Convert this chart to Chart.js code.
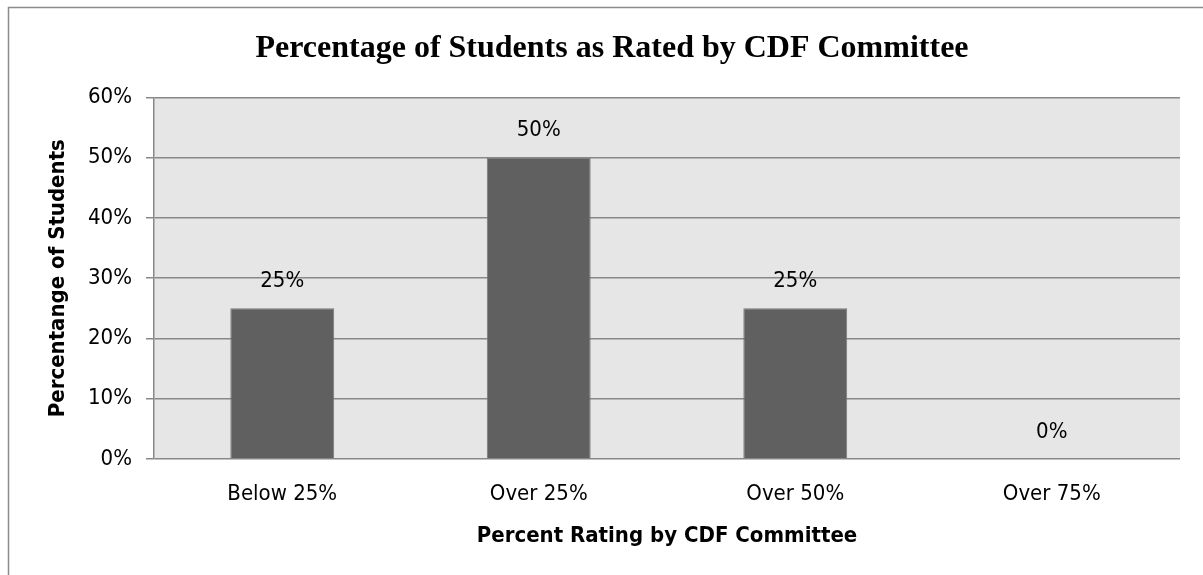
<!DOCTYPE html>
<html>
<head>
<meta charset="utf-8">
<script src="https://cdn.jsdelivr.net/npm/chart.js@4.4.0/dist/chart.umd.min.js"></script>
<style>
html, body { margin: 0; padding: 0; background: #fff; }
</style>
</head>
<body>
<canvas id="chart" width="1203" height="575"></canvas>
<script>
var categories = ["Below 25%", "Over 25%", "Over 50%", "Over 75%"];
var percentStudents = [25, 50, 25, 0];
var yTicks = [0, 10, 20, 30, 40, 50, 60];

var narrow = "'Liberation Sans Narrow', 'DejaVu Sans Condensed', sans-serif";

// grey plot area + outer chart frame
var plotBackground = {
    id: "plotBackground",
    beforeDraw: function (chart) {
        var ctx = chart.ctx, a = chart.chartArea;
        ctx.save();
        ctx.fillStyle = "#fff";
        ctx.fillRect(0, 0, chart.width, chart.height);
        ctx.fillStyle = "#e6e6e6";
        ctx.fillRect(a.left, a.top, a.right - a.left, a.bottom - a.top);
        ctx.strokeStyle = "#8c8c8c";
        ctx.lineWidth = 1.5;
        ctx.strokeRect(8.5, 7.5, chart.width + 20, chart.height + 20);
        ctx.restore();
    }
};

// value labels above the bars
var barLabels = {
    id: "barLabels",
    afterDatasetsDraw: function (chart) {
        var ctx = chart.ctx;
        var meta = chart.getDatasetMeta(0);
        ctx.save();
        ctx.font = "22px " + narrow;
        ctx.fillStyle = "#000";
        ctx.textAlign = "center";
        ctx.textBaseline = "middle";
        meta.data.forEach(function (bar, i) {
            ctx.fillText(percentStudents[i] + "%", bar.x, bar.y - 27);
        });
        ctx.restore();
    }
};

new Chart(document.getElementById("chart"), {
    type: "bar",
    data: {
        labels: categories,
        datasets: [{
            data: percentStudents,
            backgroundColor: "#606060",
            borderColor: "#7a7a7a",
            borderWidth: 1,
            barPercentage: 0.405,
            categoryPercentage: 1
        }]
    },
    options: {
        responsive: false,
        animation: false,
        devicePixelRatio: 1,
        layout: { padding: { left: 44, right: 23, top: 0, bottom: 0 } },
        plugins: {
            legend: { display: false },
            tooltip: { enabled: false },
            title: {
                display: true,
                text: "Percentage of Students as Rated by CDF Committee",
                color: "#000",
                font: { family: "'Liberation Serif', 'Times New Roman', serif", size: 32, weight: "bold" },
                padding: { top: 30, bottom: 29 }
            }
        },
        scales: {
            x: {
                grid: { display: false },
                border: { display: false },
                ticks: { color: "#000", font: { family: narrow, size: 22 }, padding: 14 },
                title: {
                    display: true,
                    text: "Percent Rating by CDF Committee",
                    color: "#000",
                    font: { family: narrow, size: 22, weight: "bold" },
                    padding: { top: 0, bottom: 26 }
                },
                afterFit: function (s) { s.height = 116; }
            },
            y: {
                min: 0,
                max: 60,
                afterBuildTicks: function (s) {
                    s.ticks = yTicks.map(function (v) { return { value: v }; });
                },
                grid: { color: "#888", lineWidth: 1.5, tickLength: 8, drawTicks: true },
                border: { display: true, color: "#888", width: 1.5 },
                ticks: {
                    color: "#000",
                    font: { family: narrow, size: 22 },
                    padding: 14,
                    callback: function (v) { return v + "%"; }
                },
                title: {
                    display: true,
                    text: "Percentange of Students",
                    color: "#000",
                    font: { family: narrow, size: 22, weight: "bold" },
                    padding: { top: 1, bottom: 0 }
                },
                afterFit: function (s) { s.width = 110; }
            }
        }
    },
    plugins: [plotBackground, barLabels]
});
</script>
</body>
</html>
